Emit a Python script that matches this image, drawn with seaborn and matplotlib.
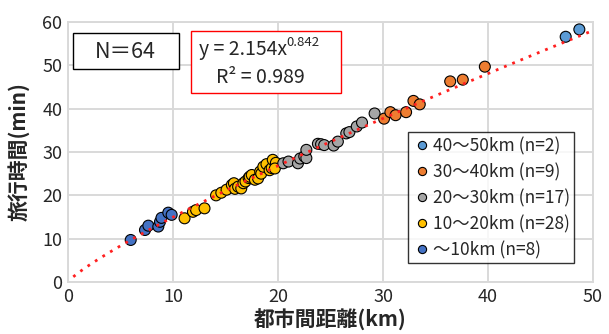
import numpy as np
import pandas as pd
import seaborn as sns
import matplotlib.pyplot as plt
from matplotlib.patches import Rectangle

sns.set_style("white")
plt.rcParams['font.family'] = ['Noto Sans CJK JP', 'DejaVu Sans']

# distance (km) / travel time (min) per class
x_10 = [5.97, 7.33, 7.65, 8.6, 8.76, 8.9, 9.55, 9.87]
y_10 = [9.7, 12.0, 13.0, 12.8, 13.9, 14.8, 16.0, 15.5]

x_20 = [11.1, 11.9, 12.2, 13.0, 14.1, 14.6, 15.1, 15.6, 15.8, 15.9, 16.2, 16.5, 16.7, 16.9,
        17.2, 17.3, 17.5, 17.8, 18.1, 18.3, 18.4, 18.6, 18.9, 19.2, 19.4, 19.5, 19.8, 19.7]
y_20 = [14.7, 16.2, 16.6, 17.0, 20.0, 20.6, 21.3, 22.4, 22.8, 21.5, 22.0, 21.6, 22.8, 23.2,
        24.0, 24.3, 24.7, 23.6, 23.9, 25.5, 25.0, 26.6, 27.2, 25.8, 26.3, 28.2, 27.5, 26.2]

x_30 = [20.5, 21.0, 21.9, 22.1, 22.5, 22.7, 22.7, 23.8, 24.1, 24.4, 25.3, 25.7, 26.5, 26.8,
        27.5, 28.0, 29.2]
y_30 = [27.4, 27.8, 27.4, 28.5, 29.0, 28.6, 30.5, 31.9, 31.8, 31.6, 31.5, 32.4, 34.3, 34.6,
        35.9, 36.8, 38.9]

x_40 = [30.1, 30.7, 31.2, 32.2, 32.9, 33.5, 36.4, 37.6, 39.7]
y_40 = [37.7, 39.2, 38.5, 39.2, 41.8, 41.0, 46.3, 46.7, 49.7]

x_50 = [47.4, 48.7]
y_50 = [56.6, 58.3]

labels = ['40～50km (n=2)', '30～40km (n=9)', '20～30km (n=17)', '10～20km (n=28)', '～10km (n=8)']
colors = ['#5B9BD5', '#ED7D31', '#A5A5A5', '#FFC000', '#4472C4']

coef_a = 2.154
coef_b = 0.842

frames = []
for xs, ys, lab in [(x_10, y_10, labels[4]), (x_20, y_20, labels[3]), (x_30, y_30, labels[2]),
                    (x_40, y_40, labels[1]), (x_50, y_50, labels[0])]:
    frames.append(pd.DataFrame({'dist': xs, 'time': ys, 'cls': lab}))
df = pd.concat(frames, ignore_index=True)

fig = plt.figure(figsize=(6.09, 3.34), dpi=100)
ax = fig.add_axes([0.1117, 0.1557, 0.862, 0.7783])

# power trendline
xt = np.linspace(0.5, 50, 200)
ax.plot(xt, coef_a * xt ** coef_b, color='#FF2020', linestyle=(0, (1, 2.2)), lw=2.0, zorder=3)

sns.scatterplot(data=df, x='dist', y='time', hue='cls', hue_order=labels,
                palette=dict(zip(labels, colors)), s=62, edgecolor='black', linewidth=0.8,
                ax=ax, zorder=2)

ax.set_xlim(0, 50)
ax.set_ylim(0, 60)
ax.set_xticks(range(0, 51, 10))
ax.set_yticks(range(0, 61, 10))
ax.grid(True, color='#D9D9D9', lw=1.4)
ax.set_axisbelow(True)
for sp in ax.spines.values():
    sp.set_color('#D9D9D9')
    sp.set_linewidth(1.4)
ax.tick_params(labelsize=13, length=0, pad=4)
ax.set_xlabel('都市間距離(km)', fontsize=15, fontweight='bold')
ax.set_ylabel('旅行時間(min)', fontsize=15, fontweight='bold')
ax.yaxis.set_label_coords(-0.074, 0.5)
ax.xaxis.set_label_coords(0.5, -0.105)

leg = ax.legend(loc='lower right', bbox_to_anchor=(0.981, 0.038), fontsize=12.5,
                frameon=True, fancybox=False, edgecolor='black', markerscale=0.75,
                handletextpad=0.0, borderpad=0.25, labelspacing=0.45, handlelength=1.2)
leg.get_frame().set_linewidth(1.0)

# N box
ax.add_patch(Rectangle((0.0095, 0.819), 0.2015, 0.139, transform=ax.transAxes,
                       fill=True, facecolor='white', edgecolor='black', lw=1.0, zorder=4))
ax.text(0.11, 0.886, 'N＝64', transform=ax.transAxes, ha='center', va='center',
        fontsize=15.5, zorder=5)

# equation box
ax.add_patch(Rectangle((0.234, 0.727), 0.286, 0.238, transform=ax.transAxes,
                       fill=True, facecolor='white', edgecolor='#FF0000', lw=1.0, zorder=4))
t1 = ax.text(0.249, 0.893, 'y = 2.154x', transform=ax.transAxes, ha='left', va='center',
             fontsize=14, zorder=5)
ax.annotate('0.842', xy=(1.0, 0.55), xycoords=t1, ha='left', va='bottom', fontsize=9.5, zorder=5)
ax.text(0.367, 0.787, 'R² = 0.989', transform=ax.transAxes, ha='center', va='center',
        fontsize=14, zorder=5)

fig.savefig('out.png', dpi=100)
